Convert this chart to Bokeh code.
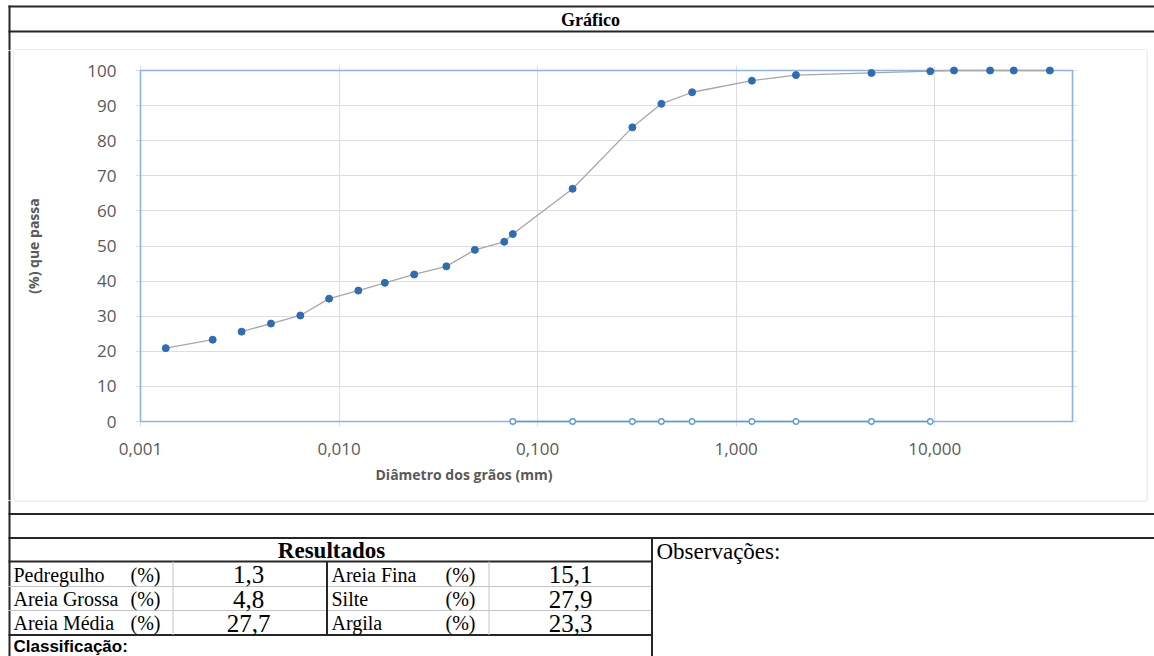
from bokeh.plotting import figure
from bokeh.layouts import column, row
from bokeh.models import Range1d, FixedTicker, Title, ColumnDataSource
from bokeh.core.properties import value
from bokeh.embed import file_html
from bokeh.resources import INLINE

# ---------------- data ----------------
diam = [0.00134, 0.00231, 0.00323, 0.00454, 0.00638, 0.00891, 0.0125, 0.0170,
        0.0239, 0.0347, 0.0483, 0.0679, 0.075, 0.15, 0.30, 0.42, 0.60, 1.2,
        2.0, 4.8, 9.5, 12.5, 19.0, 25.0, 38.0]
passing = [20.9, 23.3, 25.6, 27.9, 30.2, 35.0, 37.3, 39.5, 41.9, 44.2, 48.9,
           51.2, 53.4, 66.3, 83.8, 90.5, 93.8, 97.1, 98.7, 99.3, 99.8, 100.0,
           100.0, 100.0, 100.0]
break_after = 2          # the curve is interrupted after the 2nd point

sieve_diam = [0.075, 0.15, 0.30, 0.42, 0.60, 1.2, 2.0, 4.8, 9.5]
sieve_zero = [0, 0, 0, 0, 0, 0, 0, 0, 0]

x_ticks = [0.001, 0.01, 0.1, 1, 10]
x_tick_labels = ["0,001", "0,010", "0,100", "1,000", "10,000"]
y_ticks = [0, 10, 20, 30, 40, 50, 60, 70, 80, 90, 100]

x_min, x_max = 0.001, 49.4
y_min, y_max = 0, 100

left_labels = ["Pedregulho", "Areia Grossa", "Areia Média"]
left_values = ["1,3", "4,8", "27,7"]
right_labels = ["Areia Fina", "Silte", "Argila"]
right_values = ["15,1", "27,9", "23,3"]

# ---------------- styles ----------------
DARK = "#262626"
THIN = "#c4c4c4"
PANEL = "#d9d9d9"
SERIF = value("Liberation Serif")
SANS = "Open Sans"
AXTXT = "#595959"


def canvas(w, h):
    c = figure(width=w, height=h, x_range=Range1d(0, w), y_range=Range1d(h, 0),
               toolbar_location=None, output_backend="svg",
               min_border_left=0, min_border_right=0, min_border_top=0, min_border_bottom=0,
               x_axis_location=None, y_axis_location=None,
               background_fill_color="white", border_fill_color="white",
               outline_line_color=None, frame_align=False)
    c.xgrid.visible = False
    c.ygrid.visible = False
    return c


def seg(c, x0, y0, x1, y1, color=DARK, width=2):
    c.segment(x0=[x0], y0=[y0], x1=[x1], y1=[y1], line_color=color, line_width=width)


W = 1154

# ---------------- top strip (title row) : page y 0..50 ----------------
top = canvas(W, 50)
seg(top, 8, 6, W, 6)
seg(top, 8, 31, W, 31)
seg(top, 9, 5, 9, 50)
seg(top, 13.5, 49.5, 1146.5, 49.5, PANEL, 1)
top.text(x=[590], y=[19.5], text=["Gráfico"], text_font=SERIF, text_font_style="bold",
         text_font_size="18px", text_align="center", text_baseline="middle", text_color="black")

# ---------------- side strips : page y 50..500 ----------------
left = canvas(14, 450)
seg(left, 9, 0, 9, 450)
seg(left, 13.5, 0, 13.5, 450, PANEL, 1)

right = canvas(8, 450)
seg(right, 0.5, 0, 0.5, 450, PANEL, 1)

# ---------------- chart : page x 14..1146 ----------------
decade_px = 198.6
unit_px = 3.51
pad_px = 5
xr = Range1d(x_min / 10 ** (pad_px / decade_px), x_max * 10 ** (pad_px / decade_px))
yr = Range1d(y_min - pad_px / unit_px, y_max + pad_px / unit_px)

p = figure(width=1132, height=450, x_axis_type="log", x_range=xr, y_range=yr,
           toolbar_location=None, output_backend="svg",
           min_border_left=121, min_border_right=69, min_border_top=15, min_border_bottom=74,
           background_fill_color="white", border_fill_color="white",
           outline_line_color=None, frame_align=False)

for ax in (p.xaxis[0], p.yaxis[0]):
    ax.axis_line_color = None
    ax.major_tick_line_color = None
    ax.minor_tick_line_color = None
    ax.major_label_text_font = SANS
    ax.major_label_text_font_size = "17px"
    ax.major_label_text_color = AXTXT

p.xaxis.ticker = FixedTicker(ticks=x_ticks)
p.xaxis.major_label_overrides = {t: l for t, l in zip(x_ticks, x_tick_labels)}
p.xaxis.major_label_standoff = 10
p.yaxis.ticker = FixedTicker(ticks=y_ticks)
p.yaxis.major_label_standoff = 13
p.yaxis.axis_label = "(%) que passa"
p.yaxis.axis_label_text_font = SANS
p.yaxis.axis_label_text_font_style = "bold"
p.yaxis.axis_label_text_font_size = "14px"
p.yaxis.axis_label_text_color = AXTXT
p.yaxis.axis_label_standoff = 41

p.xgrid.grid_line_color = "#d9dde6"
p.ygrid.grid_line_color = "#d9dde6"
p.xgrid.grid_line_width = 1
p.ygrid.grid_line_width = 1

xt = Title(text="Diâmetro dos grãos (mm)", align="left", offset=240,
           text_font=SANS, text_font_style="bold", text_font_size="14px",
           text_color=AXTXT)
p.add_layout(xt, "below")

# plot-area border
p.quad(left=[x_min], right=[x_max], bottom=[y_min], top=[y_max],
       fill_color=None, line_color="#8DB3E2", line_width=1.6)

# sieve series on the 0 line
p.line(sieve_diam, sieve_zero, line_color="#5B9BD5", line_width=1.5)
p.scatter(sieve_diam, sieve_zero, size=5.5, marker="circle", fill_color="white",
          line_color="#5B9BD5", line_width=1.3)

# grain-size curve
src = ColumnDataSource(dict(d=diam, pp=passing))
p.line(diam[:break_after], passing[:break_after], line_color="#A6A6A6", line_width=1.3)
p.line(diam[break_after:], passing[break_after:], line_color="#A6A6A6", line_width=1.3)
p.scatter("d", "pp", source=src, size=7, marker="circle", fill_color="#2E6DB4",
          line_color="#2E6DB4")

# ---------------- bottom (results table) : page y 500..656 ----------------
bot = canvas(W, 156)
seg(bot, 13.5, 0.5, 1146.5, 0.5, PANEL, 1)
seg(bot, 9, 0, 9, 156)
seg(bot, 8, 13.5, W, 13.5)
seg(bot, 8, 37.5, W, 37.5)
seg(bot, 8, 61, 652, 61)
seg(bot, 8, 86, 652, 86, THIN, 1)
seg(bot, 8, 110, 652, 110, THIN, 1)
seg(bot, 8, 134.5, 652, 134.5)
seg(bot, 172.5, 61, 172.5, 134.5, THIN, 1)
seg(bot, 326.5, 61, 326.5, 134.5)
seg(bot, 488.5, 61, 488.5, 134.5, THIN, 1)
seg(bot, 651.5, 37.5, 651.5, 156)

bot.text(x=[331], y=[50], text=["Resultados"], text_font=SERIF, text_font_style="bold",
         text_font_size="23px", text_align="center", text_baseline="middle", text_color="black")

row_y = [74, 98.5, 122.5]
lab_kw = dict(text_font=SERIF, text_font_size="20px", text_baseline="middle", text_color="black")
val_kw = dict(text_font=SERIF, text_font_size="25px", text_baseline="middle",
              text_align="center", text_color="black")
bot.text(x=[13] * 3, y=row_y, text=left_labels, text_align="left", **lab_kw)
bot.text(x=[160] * 3, y=row_y, text=["(%)"] * 3, text_align="right", **lab_kw)
bot.text(x=[248] * 3, y=row_y, text=left_values, **val_kw)
bot.text(x=[331] * 3, y=row_y, text=right_labels, text_align="left", **lab_kw)
bot.text(x=[475] * 3, y=row_y, text=["(%)"] * 3, text_align="right", **lab_kw)
bot.text(x=[570] * 3, y=row_y, text=right_values, **val_kw)

bot.text(x=[13], y=[146], text=["Classificação:"], text_font=value("Liberation Sans"),
         text_font_style="bold", text_font_size="17px", text_baseline="middle",
         text_align="left", text_color="black")
bot.text(x=[656], y=[51], text=["Observações:"], text_font=SERIF, text_font_size="23px",
         text_baseline="middle", text_align="left", text_color="black")

layout = column(top, row(left, p, right), bot)

open("out.html", "w").write(file_html(layout, INLINE))
